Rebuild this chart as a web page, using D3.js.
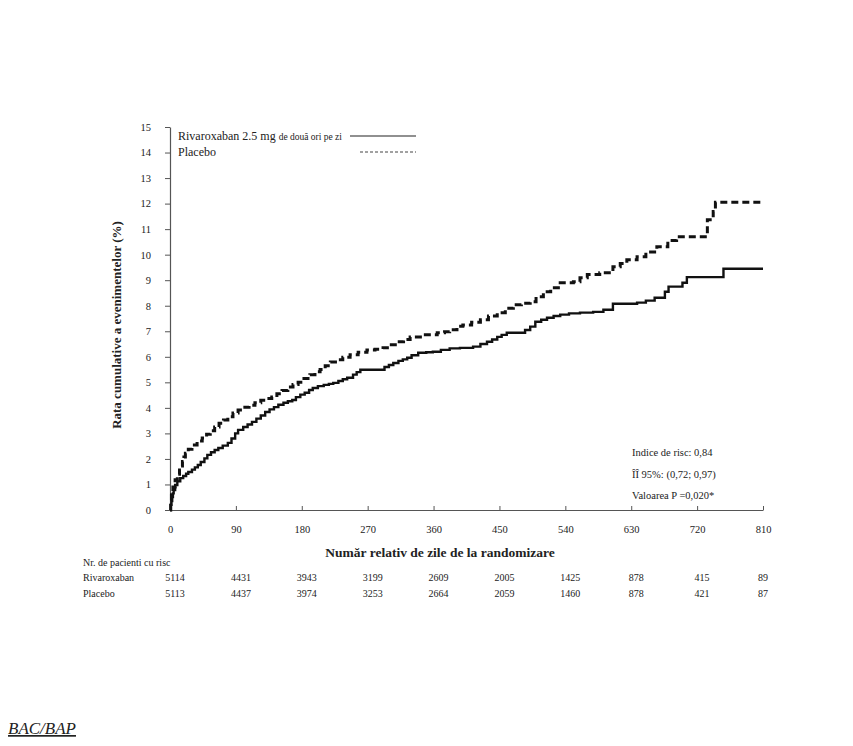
<!DOCTYPE html>
<html>
<head>
<meta charset="utf-8">
<script src="https://cdn.jsdelivr.net/npm/d3@7"></script>
<style>
  body { margin: 0; background: #fff; }
  svg { display: block; }
  text { font-family: "Liberation Serif", "Times New Roman", serif; fill: #222; }
</style>
</head>
<body>
<div id="canvas"></div>
<script>
// cumulative event curves: [day, percent]
const rivaroxaban = [
  [0, 0], [1, 0.2], [2, 0.35], [3, 0.51], [4, 0.65], [5, 0.78], [7, 0.98], [10, 1.12],
  [14, 1.25], [18, 1.33], [22, 1.42], [25, 1.49], [30, 1.58], [34, 1.67], [38, 1.76],
  [42, 1.88], [47, 2.02], [51, 2.16], [56, 2.26], [61, 2.35], [66, 2.43], [72, 2.52],
  [79, 2.63], [84, 2.8], [89, 3.0], [93, 3.14], [100, 3.25], [106, 3.35], [112, 3.45],
  [118, 3.58], [124, 3.7], [130, 3.84], [136, 3.94], [142, 4.03], [148, 4.12], [155, 4.2],
  [161, 4.26], [167, 4.31], [172, 4.42], [178, 4.52], [184, 4.59], [190, 4.7], [195, 4.78],
  [202, 4.85], [210, 4.9], [217, 4.94], [223, 4.98], [230, 5.05], [236, 5.12], [242, 5.18],
  [250, 5.3], [255, 5.4], [260, 5.49], [287, 5.49], [293, 5.6], [299, 5.68], [305, 5.76],
  [312, 5.84], [318, 5.9], [324, 5.96], [330, 6.06], [339, 6.16], [350, 6.18], [359, 6.2],
  [370, 6.27], [382, 6.33], [396, 6.35], [414, 6.4], [424, 6.5], [433, 6.59], [440, 6.68],
  [447, 6.78], [453, 6.86], [460, 6.94], [478, 6.94], [485, 7.05], [492, 7.18], [499, 7.37],
  [507, 7.45], [515, 7.53], [524, 7.6], [533, 7.65], [545, 7.7], [560, 7.73], [578, 7.76],
  [592, 7.84], [605, 8.08], [638, 8.12], [650, 8.2], [662, 8.31], [676, 8.55], [681, 8.75],
  [700, 8.9], [706, 9.12], [755, 9.12], [756, 9.45], [810, 9.45]
];
const placebo = [
  [0, 0], [1, 0.3], [2, 0.6], [4, 0.9], [7, 1.18], [10, 1.4], [13, 1.57], [15, 1.72],
  [17, 1.9], [19, 2.08], [21, 2.22], [25, 2.38], [30, 2.55], [37, 2.7], [44, 2.82],
  [50, 2.97], [55, 3.1], [61, 3.25], [67, 3.4], [73, 3.52], [79, 3.65], [86, 3.8],
  [93, 3.92], [100, 4.02], [108, 4.1], [116, 4.2], [124, 4.3], [132, 4.37], [139, 4.43],
  [146, 4.55], [153, 4.68], [161, 4.82], [168, 4.92], [175, 5.0], [183, 5.15], [191, 5.3],
  [198, 5.41], [205, 5.5], [212, 5.65], [219, 5.8], [226, 5.88], [236, 5.98], [246, 6.08],
  [257, 6.18], [269, 6.27], [280, 6.3], [291, 6.35], [300, 6.47], [310, 6.59], [319, 6.68],
  [328, 6.78], [346, 6.86], [365, 6.94], [375, 6.98], [382, 7.06], [392, 7.2], [400, 7.25],
  [412, 7.35], [424, 7.45], [435, 7.6], [447, 7.73], [458, 7.9], [469, 8.04], [480, 8.1],
  [492, 8.16], [500, 8.35], [510, 8.55], [520, 8.7], [533, 8.9], [551, 8.94], [560, 9.1],
  [570, 9.22], [587, 9.29], [605, 9.53], [615, 9.65], [624, 9.8], [638, 9.92], [650, 10.1],
  [665, 10.31], [680, 10.55], [692, 10.7], [726, 10.7], [734, 11.37], [742, 11.69],
  [745, 12.05], [810, 12.05]
];

const xTicks = [0, 90, 180, 270, 360, 450, 540, 630, 720, 810];
const yTicks = [0, 1, 2, 3, 4, 5, 6, 7, 8, 9, 10, 11, 12, 13, 14, 15];
const riskRivaroxaban = [5114, 4431, 3943, 3199, 2609, 2005, 1425, 878, 415, 89];
const riskPlacebo = [5113, 4437, 3974, 3253, 2664, 2059, 1460, 878, 421, 87];
const stats = ["Indice de risc: 0,84", "ÎÎ 95%: (0,72; 0,97)", "Valoarea P =0,020*"];

const width = 853;
const height = 746;
const margin = { top: 127, left: 170, bottom: 236, right: 90 };
const iwidth = width - margin.left - margin.right;
const iheight = height - margin.top - margin.bottom;

const svg = d3.select("#canvas").append("svg")
  .attr("width", width)
  .attr("height", height);

const g = svg.append("g")
  .attr("transform", `translate(${margin.left},${margin.top})`);

const x = d3.scaleLinear().domain([0, 810]).range([0, iwidth]);
const y = d3.scaleLinear().domain([0, 15]).range([iheight, 0]);

// axes
const yAxis = g.append("g")
  .call(d3.axisLeft(y).tickValues(yTicks).tickSize(5).tickSizeOuter(0).tickPadding(14));
const xAxis = g.append("g")
  .attr("transform", `translate(0,${iheight})`)
  .call(d3.axisBottom(x).tickValues(xTicks).tickSize(-4).tickSizeOuter(0).tickPadding(16));

[xAxis, yAxis].forEach((ax) => {
  ax.attr("font-family", null);
  ax.select(".domain").attr("stroke", "#555").attr("stroke-width", 1.2);
  ax.selectAll(".tick line").attr("stroke", "#555");
  ax.selectAll("text")
    .style("font-size", "10.5px")
    .attr("fill", "#333");
});

// curves
const line = d3.line()
  .x((d) => x(d[0]))
  .y((d) => y(d[1]))
  .curve(d3.curveStepAfter);

g.append("path")
  .datum(rivaroxaban)
  .attr("fill", "none")
  .attr("stroke", "#111")
  .attr("stroke-width", 2.4)
  .attr("d", line);

g.append("path")
  .datum(placebo)
  .attr("fill", "none")
  .attr("stroke", "#111")
  .attr("stroke-width", 3)
  .attr("stroke-dasharray", "7,4")
  .attr("d", line);

// axis titles
svg.append("text")
  .attr("x", 440)
  .attr("y", 557)
  .attr("text-anchor", "middle")
  .style("font-size", "13.5px")
  .style("font-weight", "bold")
  .text("Număr relativ de zile de la randomizare");

svg.append("text")
  .attr("transform", "translate(121,325) rotate(-90)")
  .attr("text-anchor", "middle")
  .style("font-size", "13px")
  .style("font-weight", "bold")
  .text("Rata cumulative a evenimentelor (%)");

// legend
const leg = svg.append("g");
const t1 = leg.append("text").attr("x", 178).attr("y", 140).style("font-size", "12px");
t1.append("tspan").text("Rivaroxaban 2.5 mg ");
t1.append("tspan").style("font-size", "9.5px").text("de două ori pe zi");
leg.append("line")
  .attr("x1", 350).attr("x2", 416).attr("y1", 136).attr("y2", 136)
  .attr("stroke", "#222").attr("stroke-width", 1.2);
leg.append("text").attr("x", 178).attr("y", 156).style("font-size", "12px").text("Placebo");
leg.append("line")
  .attr("x1", 360).attr("x2", 416).attr("y1", 152).attr("y2", 152)
  .attr("stroke", "#444").attr("stroke-width", 1.2)
  .attr("stroke-dasharray", "3,2");

// stats box
svg.append("g").selectAll("text")
  .data(stats)
  .join("text")
  .attr("x", 632)
  .attr("y", (d, i) => 456 + i * 21.5)
  .style("font-size", "10.5px")
  .text((d) => d);

// number at risk table
svg.append("text").attr("x", 83).attr("y", 566).style("font-size", "10px").text("Nr. de pacienti cu risc");
svg.append("text").attr("x", 83).attr("y", 581).style("font-size", "10px").text("Rivaroxaban");
svg.append("text").attr("x", 83).attr("y", 597).style("font-size", "10px").text("Placebo");

[[riskRivaroxaban, 581], [riskPlacebo, 597]].forEach(([vals, yy]) => {
  svg.append("g").selectAll("text")
    .data(vals)
    .join("text")
    .attr("x", (d, i) => margin.left + x(xTicks[i]) + (i === vals.length - 1 ? 0 : 5))
    .attr("y", yy)
    .attr("text-anchor", "middle")
    .style("font-size", "10px")
    .text((d) => d);
});

// section heading below the figure
svg.append("text")
  .attr("x", 8)
  .attr("y", 734)
  .style("font-size", "17px")
  .style("font-style", "italic")
  .style("text-decoration", "underline")
  .text("BAC/BAP");
</script>
</body>
</html>
